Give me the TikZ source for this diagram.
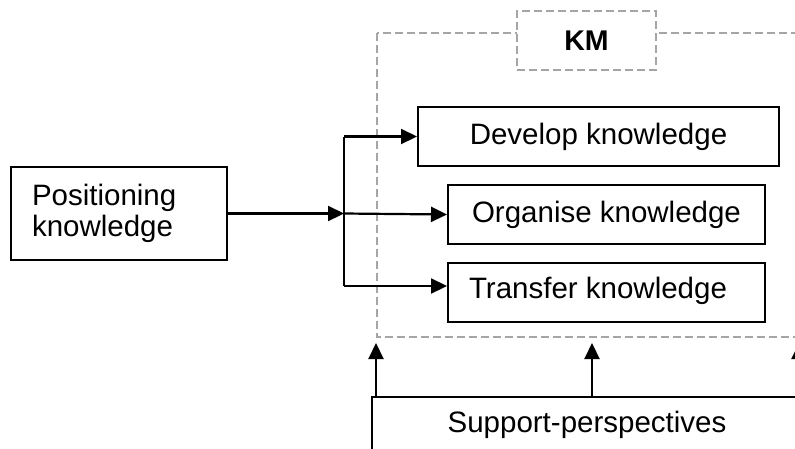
\documentclass[tikz,border=0pt]{standalone}
\usepackage{fontspec}
\setmainfont{Liberation Sans}
\usetikzlibrary{arrows.meta}
\definecolor{framegray}{RGB}{165,165,165}
\begin{document}
\begin{tikzpicture}[x=1pt,y=-1pt,
  box/.style={draw=black,line width=2pt,minimum height=59pt,inner sep=0pt,
    font=\fontsize{29.5}{31}\selectfont},
  frame/.style={draw=framegray,line width=1.8pt,dash pattern=on 8pt off 4pt},
  link/.style={line width=2.2pt,-{Triangle[length=16pt,width=15pt]}},
  plain/.style={line width=2.2pt},
  ]
\useasboundingbox (0,0) rectangle (795,448);
\clip (0,0) rectangle (795,448);

% dashed KM frame and its title tab
\draw[frame] (377,33) rectangle (830,337);
\node[frame,fill=white,minimum width=139pt,minimum height=59pt,inner sep=0pt,
  font=\fontsize{28.5}{30}\selectfont\bfseries] (km) at (586.5,40.5) {KM};

% boxes
\node[box,minimum width=216pt,minimum height=93pt,text width=174pt,inner xsep=21pt,
  align=left] (pos) at (119,213.5) {Positioning\\knowledge};
\node[box,minimum width=361pt] (dev) at (598.5,136.5) {Develop knowledge};
\node[box,minimum width=317pt] (org) at (606.5,214.5) {Organise knowledge};
\node[box,minimum width=317pt] (tra) at (606.5,292.5) {};
\node[font=\fontsize{29.5}{31}\selectfont,inner sep=0pt] (tratext) at (598,291) {Transfer knowledge};
\node[box,minimum width=430pt,minimum height=56pt] (sup) at (587,425) {Support-perspectives};

% branching from positioning to the three activities
\coordinate (split) at (344,213.5);
\coordinate (top) at (344,136.5);
\coordinate (bot) at (344,286);
\draw[link] (pos.east) -- (split);
\draw[plain] (top) -- (bot);
\draw[link] (split) -- (org.west);
\draw[link] (top) -- (dev.west);
\draw[link] (bot) -- (tra.west |- bot);

% support arrows into the frame
\coordinate (s1) at (376,343);
\coordinate (s2) at (592,343);
\coordinate (s3) at (799,343);
\draw[link] (sup.north -| s1) -- (s1);
\draw[link] (sup.north -| s2) -- (s2);
\draw[link] (sup.north -| s3) -- (s3);
\end{tikzpicture}
\end{document}
